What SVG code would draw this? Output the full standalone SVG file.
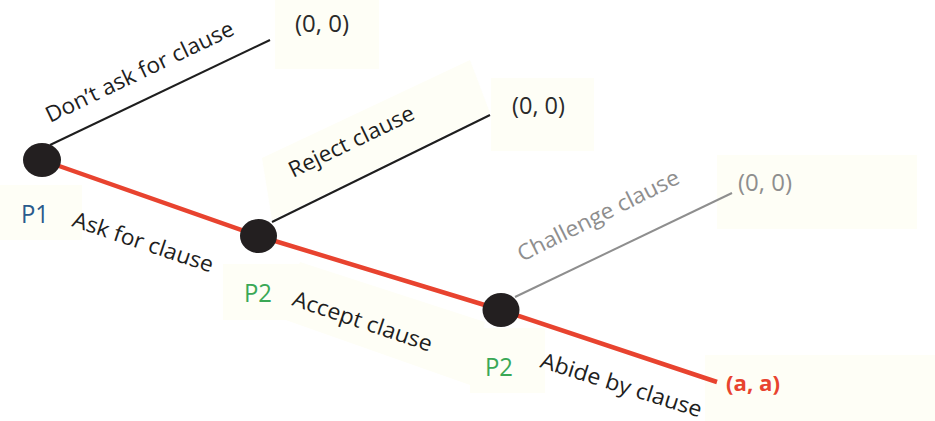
<svg xmlns="http://www.w3.org/2000/svg" width="935" height="421" viewBox="0 0 935 421">
<style>
.bg{fill:#fefef6;stroke:none}
.lbl{font-family:"Open Sans","Noto Sans",sans-serif;font-size:22px;fill:#1e1e1e}
.pay{font-family:"Open Sans","Noto Sans",sans-serif;font-size:23px;fill:#2a2a2a}
.pl{font-family:"Open Sans","Noto Sans",sans-serif;font-size:26px}
.node{fill:#231f20}
.edge{fill:none;stroke:#1e1e1e;stroke-width:2}
</style>
<g id="backgrounds">
<rect class="bg" x="275" y="0" width="104" height="69"/>
<rect class="bg" x="491" y="78" width="103" height="73"/>
<rect class="bg" x="717" y="155" width="200" height="74"/>
<rect class="bg" x="0" y="185" width="82" height="55"/>
<rect class="bg" x="223" y="264" width="80" height="56"/>
<rect class="bg" x="470" y="328" width="75" height="65"/>
<rect class="bg" x="705" y="355" width="230" height="66"/>
<polygon class="bg" points="262,158 470,60 490,113 272,220"/>
<polygon class="bg" points="300,262 485,322 470,385 280,318"/>
</g>
<g id="connectors">
<line class="edge" x1="50" y1="145" x2="270" y2="40"/>
<line class="edge" x1="272" y1="222" x2="490" y2="115"/>
<line x1="515" y1="297" x2="732" y2="193" stroke="#8e8e8e" stroke-width="2"/>
<polyline points="42,160 258.5,236 501,310 717,382" fill="none" stroke="#e8432f" stroke-width="4.5"/>
</g>
<g id="edge-labels">
<text class="lbl" transform="translate(50,123) rotate(-25.6)" textLength="206" lengthAdjust="spacingAndGlyphs">Don’t ask for clause</text>
<text class="lbl" transform="translate(293,178) rotate(-25.8)" textLength="137" lengthAdjust="spacingAndGlyphs">Reject clause</text>
<text class="lbl" transform="translate(522,262) rotate(-26.5)" textLength="178" lengthAdjust="spacingAndGlyphs" style="fill:#8e8e8e">Challenge clause</text>
<text class="lbl" transform="translate(71,226) rotate(18.5)" textLength="147" lengthAdjust="spacingAndGlyphs">Ask for clause</text>
<text class="lbl" transform="translate(291,305) rotate(18.7)" textLength="146" lengthAdjust="spacingAndGlyphs">Accept clause</text>
<text class="lbl" transform="translate(539,367) rotate(17.5)" textLength="168" lengthAdjust="spacingAndGlyphs">Abide by clause</text>
</g>
<g id="node-p1">
<ellipse class="node" cx="42" cy="160" rx="19" ry="17"/>
<text class="pl" x="21" y="223" textLength="28" lengthAdjust="spacingAndGlyphs" style="fill:#2a5b8c">P1</text>
</g>
<g id="node-p2a">
<ellipse class="node" cx="258.5" cy="236" rx="18.5" ry="17"/>
<text class="pl" x="244" y="302" textLength="28" lengthAdjust="spacingAndGlyphs" style="fill:#3aa856">P2</text>
</g>
<g id="node-p2b">
<ellipse class="node" cx="501" cy="310" rx="18.5" ry="17"/>
<text class="pl" x="485" y="376" textLength="28" lengthAdjust="spacingAndGlyphs" style="fill:#3aa856">P2</text>
</g>
<g id="payoff-1">
<text class="pay" x="295" y="32" textLength="54" lengthAdjust="spacingAndGlyphs">(0, 0)</text>
</g>
<g id="payoff-2">
<text class="pay" x="512" y="114" textLength="53" lengthAdjust="spacingAndGlyphs">(0, 0)</text>
</g>
<g id="payoff-3">
<text class="pay" x="738" y="191" textLength="54" lengthAdjust="spacingAndGlyphs" style="fill:#8e8e8e">(0, 0)</text>
</g>
<g id="payoff-4">
<text x="726" y="391" textLength="54" lengthAdjust="spacingAndGlyphs" style="font-family:'Open Sans','Noto Sans',sans-serif;font-size:22px;font-weight:bold;fill:#e8432f">(a, a)</text>
</g>
</svg>
